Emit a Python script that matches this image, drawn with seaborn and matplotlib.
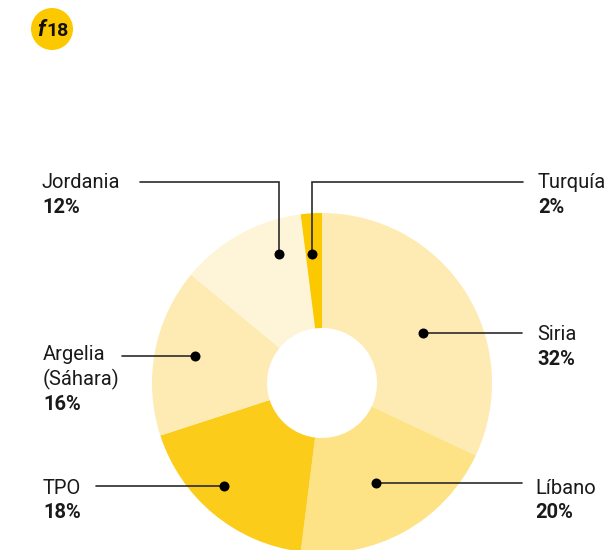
import matplotlib
matplotlib.use("Agg")
import matplotlib.pyplot as plt
import seaborn as sns

paises = ["Siria", "Líbano", "TPO", "Argelia\n(Sáhara)", "Jordania", "Turquía"]
porcentajes = [32, 20, 18, 16, 12, 2]
colores = ["#FEEBB3", "#FDE385", "#FCCC1B", "#FEEBB3", "#FEF5D9", "#FCC800"]

sns.set_theme(style="white")
plt.rcParams["font.family"] = ["Roboto", "DejaVu Sans"]

W, H = 611, 550
fig = plt.figure(figsize=(W / 100, H / 100), dpi=100)
ax = fig.add_axes([0, 0, 1, 1])


def py(y):
    # pixel row -> data y
    return H - y


cx, cy, r, r_in = 322, 383, 170, 55
ax.pie(porcentajes, colors=colores, startangle=90, counterclock=False,
       center=(cx, py(cy)), radius=r, frame=True,
       wedgeprops=dict(width=r - r_in, linewidth=0))
ax.set_xlim(0, W)
ax.set_ylim(0, H)
ax.set_aspect("equal")
ax.axis("off")

# leader lines: path points (first one is the dot), text x, first text row
lineas = {
    "Siria": ([(423, 333), (522, 333)], 537, 335),
    "Líbano": ([(376, 483), (522, 483)], 535, 488),
    "TPO": ([(224, 486), (96, 486)], 43, 488),
    "Argelia\n(Sáhara)": ([(195, 356), (122, 356)], 43, 355),
    "Jordania": ([(279, 254), (279, 182), (140, 182)], 42, 183),
    "Turquía": ([(312, 254), (312, 182), (523, 182)], 538, 183),
}

fs = 14.5
for nombre, pct in zip(paises, porcentajes):
    pts, tx, ty = lineas[nombre]
    xs = [p[0] for p in pts]
    ys = [py(p[1]) for p in pts]
    ax.plot(xs, ys, color="#2b2b2b", lw=1.2, solid_joinstyle="miter")
    ax.plot(xs[0], ys[0], "o", color="black", ms=7.2, mew=0)
    filas = nombre.split("\n")
    for i, fila in enumerate(filas):
        ax.text(tx, py(ty + 24.5 * i), fila, fontsize=fs, color="#1a1a1a",
                ha="left", va="center")
    ax.text(tx, py(ty + 24.5 * len(filas)), f"{pct}%", fontsize=fs,
            fontweight="bold", color="#1a1a1a", ha="left", va="center")

# badge
ax.add_patch(plt.Circle((52, py(29)), 21, color="#FCC800", lw=0))
ax.text(41.5, py(36), "f", fontsize=16, fontweight="bold", style="italic",
        ha="center", va="baseline", color="#111111")
ax.text(57, py(36), "18", fontsize=14, fontweight="bold",
        ha="center", va="baseline", color="#111111")

fig.savefig("out.png", dpi=100)
